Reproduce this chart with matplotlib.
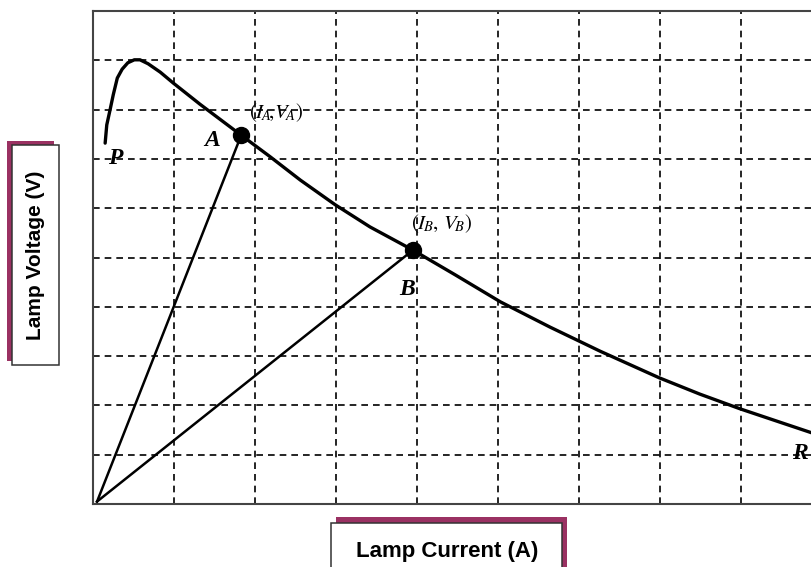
import numpy as np
import matplotlib.pyplot as plt
from matplotlib.patches import Rectangle

plt.rcParams['mathtext.fontset'] = 'stix'

# lamp V-I characteristic (arbitrary units, grid = 1 unit)
current = [0.15, 0.17, 0.21, 0.25, 0.30, 0.36, 0.43, 0.51, 0.58, 0.68, 0.83,
           0.99, 1.32, 1.83, 2.19, 2.56, 2.99, 3.42, 3.95, 4.47, 5.03, 5.64,
           6.26, 6.99, 7.49, 7.99, 8.48, 8.88, 9.0]
voltage = [7.32, 7.69, 7.99, 8.30, 8.64, 8.82, 8.95, 9.01, 9.01, 8.93, 8.76,
           8.54, 8.11, 7.48, 7.04, 6.57, 6.07, 5.62, 5.15, 4.65, 4.10, 3.59,
           3.10, 2.56, 2.23, 1.93, 1.66, 1.44, 1.38]

# operating points A and B, and the origin the load lines start from
op_i = [1.83, 3.95]
op_v = [7.48, 5.15]
origin = (0.05, 0.05)

fig = plt.figure(figsize=(8.12, 5.67), dpi=100)
ax = fig.add_axes([93/812, 63/567, 729/812, 493/567])
ax.set_xlim(0, 9)
ax.set_ylim(0, 10)
ax.set_xticks(np.arange(0, 10))
ax.set_yticks(np.arange(0, 11))
ax.tick_params(length=0, labelbottom=False, labelleft=False)
ax.grid(True, color='black', linestyle=(0, (4, 3)), linewidth=1.2)
for s in ax.spines.values():
    s.set_color('#444444')
    s.set_linewidth(1.5)

ax.plot(current, voltage, color='black', lw=2.4, solid_capstyle='round',
        solid_joinstyle='round', zorder=3)
for i, v in zip(op_i, op_v):
    ax.plot([origin[0], i], [origin[1], v], color='black', lw=1.8, zorder=3)
ax.plot(op_i, op_v, 'o', color='black', ms=11.5, zorder=4)

lab = dict(fontsize=17, fontweight='bold', fontstyle='italic',
           family='Liberation Serif', ha='center', va='center', zorder=5)
ax.text(0.28, 7.0, 'P', **lab)
ax.text(1.47, 7.38, 'A', **lab)
ax.text(3.88, 4.36, 'B', **lab)
ax.text(8.73, 1.03, 'R', **lab)
ax.text(1.92, 7.93, r'$(I_{\!A}\!,\!V_{\!A})$', fontsize=15, ha='left', va='center')
ax.text(3.93, 5.68, r'$(I_{\!B},\, V_{\!B})$', fontsize=15, ha='left', va='center')

# boxed axis titles with a coloured offset shadow (pixel coords, y from top)
def boxed(x0, y0, x1, y1, dx, dy):
    sh = Rectangle(((x0+dx)/812, (567-y1-dy)/567), (x1-x0)/812, (y1-y0)/567,
                   transform=fig.transFigure, facecolor='#9a3162', edgecolor='none')
    bx = Rectangle((x0/812, (567-y1)/567), (x1-x0)/812, (y1-y0)/567,
                   transform=fig.transFigure, facecolor='white',
                   edgecolor='#333333', linewidth=1.1)
    fig.patches.extend([sh, bx])

boxed(12, 145, 59, 365, -5, -4)
boxed(331, 523, 562, 600, 5, -6)
fig.text(36/812, 1 - 255/567, 'Lamp Voltage (V)', rotation=90, fontsize=15,
         fontweight='bold', family='Liberation Sans', ha='center', va='center')
fig.text(447/812, 1 - 552/567, 'Lamp Current (A)', fontsize=16,
         fontweight='bold', family='Liberation Sans', ha='center', va='center')

fig.savefig('out.png', dpi=100)
